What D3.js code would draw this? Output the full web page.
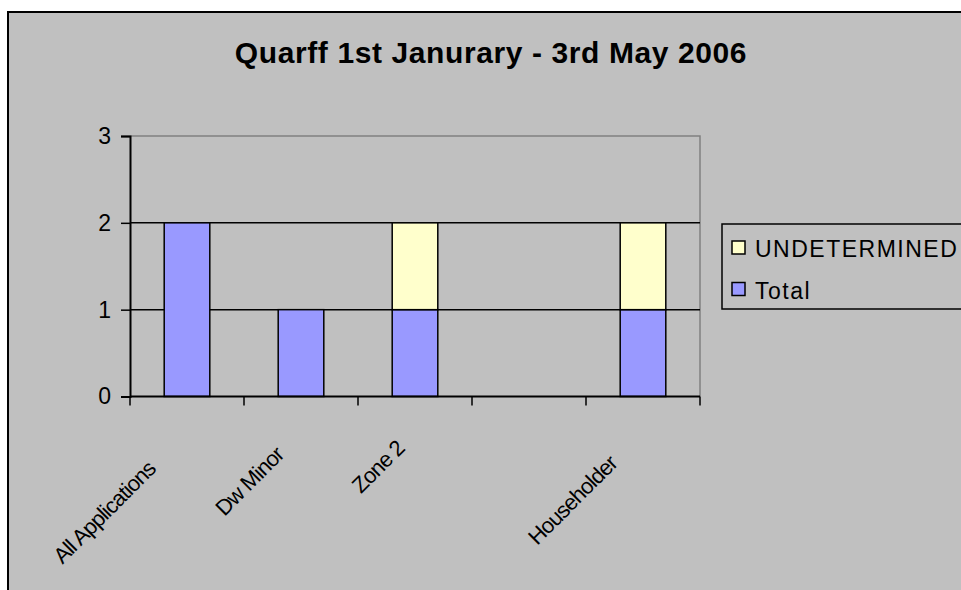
<!DOCTYPE html>
<html>
<head>
<meta charset="utf-8">
<script src="https://cdn.jsdelivr.net/npm/d3@7"></script>
<style>
  html, body { margin: 0; padding: 0; background: #fff; overflow: hidden; }
  svg { display: block; font-family: Arial, "Liberation Sans", sans-serif; }
</style>
</head>
<body>
<svg width="961" height="590"></svg>
<script>
//data
const categories = ["All Applications", "Dw Minor", "Zone 2", "", "Householder"];
const totalValues = [2, 1, 1, 0, 1];
const undeterminedValues = [0, 0, 1, 0, 1];
const seriesNames = ["Total", "UNDETERMINED"];
const seriesColors = ["#9999ff", "#ffffcc"];
const yTicks = [0, 1, 2, 3];
const chartTitle = "Quarff 1st Janurary - 3rd May 2006";

//layout
const W = 961, H = 590;
const plot = {left: 130, right: 700, top: 136, bottom: 396.5};
const svg = d3.select('svg');

//chart area with border that runs off the picture right and bottom
svg.append('rect')
  .attr('x', 8).attr('y', 12)
  .attr('width', W + 20).attr('height', H + 20)
  .attr('fill', '#c0c0c0')
  .attr('stroke', '#000').attr('stroke-width', 2);

svg.append('text')
  .attr('x', 491).attr('y', 63)
  .attr('text-anchor', 'middle')
  .attr('font-size', 30).attr('font-weight', 'bold')
  .attr('letter-spacing', 0.6)
  .text(chartTitle);

//scales
const x = d3.scaleBand().domain(d3.range(categories.length))
  .range([plot.left, plot.right]).paddingInner(0.6).paddingOuter(0.3);
const slot = d3.scaleBand().domain(d3.range(categories.length))
  .range([plot.left, plot.right]);
const y = d3.scaleLinear().domain([0, 3]).range([plot.bottom, plot.top]);

//plot border (top + right grey)
svg.append('path')
  .attr('d', `M${plot.left},${plot.top}H${plot.right}V${plot.bottom}`)
  .attr('fill', 'none').attr('stroke', '#808080').attr('stroke-width', 1.5);

//gridlines
svg.append('g').selectAll('line')
  .data(yTicks.filter(t => t > 0 && t < 3))
  .join('line')
  .attr('x1', plot.left).attr('x2', plot.right)
  .attr('y1', d => y(d)).attr('y2', d => y(d))
  .attr('stroke', '#000').attr('stroke-width', 1.5);

//stacked bars
const rows = categories.map((c, i) => ({i, Total: totalValues[i], UNDETERMINED: undeterminedValues[i]}));
const stacked = d3.stack().keys(seriesNames)(rows);

svg.append('g').selectAll('g')
  .data(stacked)
  .join('g')
  .attr('fill', (d, k) => seriesColors[k])
  .selectAll('rect')
  .data(d => d.filter(p => p[1] - p[0] > 0))
  .join('rect')
  .attr('x', p => x(p.data.i))
  .attr('width', x.bandwidth())
  .attr('y', p => y(p[1]))
  .attr('height', p => y(p[0]) - y(p[1]))
  .attr('stroke', '#000').attr('stroke-width', 1.5);

//y axis
const yAxis = svg.append('g')
  .attr('transform', `translate(${plot.left},0)`)
  .call(d3.axisLeft(y).tickValues(yTicks).tickFormat(d3.format('d')).tickSize(9).tickPadding(10));
yAxis.select('.domain').attr('stroke', '#000').attr('stroke-width', 2);
yAxis.selectAll('.tick line').attr('stroke', '#000').attr('stroke-width', 1.5);
yAxis.selectAll('text').attr('font-size', 23).attr('fill', '#000')
  .attr('font-family', 'Arial, "Liberation Sans", sans-serif');

//x axis with ticks between categories
const edges = d3.range(categories.length + 1).map(k => plot.left + k * slot.step());
const xAxis = svg.append('g');
xAxis.append('line')
  .attr('x1', plot.left).attr('x2', plot.right)
  .attr('y1', plot.bottom).attr('y2', plot.bottom)
  .attr('stroke', '#000').attr('stroke-width', 2);
xAxis.selectAll('line.tk')
  .data(edges)
  .join('line').attr('class', 'tk')
  .attr('x1', d => d).attr('x2', d => d)
  .attr('y1', plot.bottom).attr('y2', plot.bottom + 9)
  .attr('stroke', '#000').attr('stroke-width', 1.5);

//rotated category labels
xAxis.selectAll('text.cat')
  .data(categories)
  .join('text').attr('class', 'cat')
  .attr('font-size', 22)
  .attr('letter-spacing', -0.9)
  .attr('text-anchor', 'end')
  .attr('transform', (d, i) => `translate(${slot(i) + slot.bandwidth() / 2},${plot.bottom}) rotate(-45)`)
  .attr('y', 31)
  .text(d => d)
  .attr('x', function() { return -18 - 0.415 * this.getComputedTextLength(); });

//legend
const legend = svg.append('g').attr('transform', 'translate(722,224)');
legend.append('rect')
  .attr('width', 260).attr('height', 85)
  .attr('fill', '#c0c0c0').attr('stroke', '#000').attr('stroke-width', 1.5);
const legendItems = seriesNames.map((n, k) => ({name: n, color: seriesColors[k]})).reverse();
const li = legend.selectAll('g.item')
  .data(legendItems)
  .join('g').attr('class', 'item')
  .attr('transform', (d, k) => `translate(10,${17 + k * 41.5})`);
li.append('rect')
  .attr('width', 13).attr('height', 13)
  .attr('fill', d => d.color).attr('stroke', '#000').attr('stroke-width', 1.5);
li.append('text')
  .attr('x', 23).attr('y', 16)
  .attr('font-size', 23).attr('letter-spacing', 1.5)
  .text(d => d.name);
</script>
</body>
</html>
